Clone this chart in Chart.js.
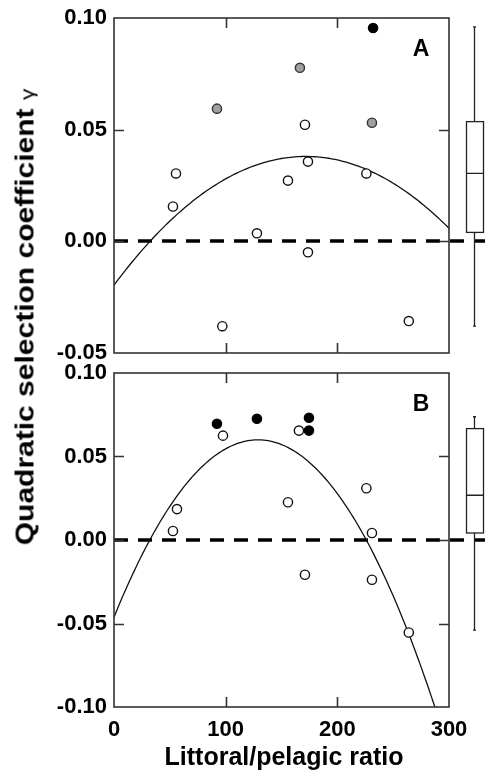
<!DOCTYPE html>
<html>
<head>
<meta charset="utf-8">
<script src="https://cdn.jsdelivr.net/npm/chart.js@4/dist/chart.umd.min.js"></script>
<style>
  html, body { margin: 0; padding: 0; background: #fff; }
  #wrap { position: relative; width: 485px; height: 771px; overflow: hidden; font-family: "Liberation Sans", Arial, sans-serif; }
  canvas { position: absolute; left: 0; }
  .panel-tag { position: absolute; font-weight: bold; font-size: 23px; color: #000; line-height: 1; transform: translate(-50%, -50%); }
  #ytitle { position: absolute; left: 25px; top: 317px; transform: translate(-50%, -50%) rotate(-90deg) scaleX(1.2); white-space: nowrap; font-weight: bold; font-size: 25px; line-height: 1; color: #000; }
  #ytitle span { font-weight: normal; font-size: 19px; }
  #xtitle { position: absolute; left: 284px; top: 756px; transform: translate(-50%, -50%); white-space: nowrap; font-weight: bold; font-size: 25px; line-height: 1; color: #000; }
</style>
</head>
<body>
<div id="wrap">
  <canvas id="chartA" width="485" height="362" style="top:0"></canvas>
  <canvas id="chartB" width="485" height="409" style="top:362px"></canvas>
  <div class="panel-tag" style="left:421px; top:48px">A</div>
  <div class="panel-tag" style="left:421px; top:403px">B</div>
  <div id="ytitle">Quadratic selection coefficient <span>γ</span></div>
  <div id="xtitle">Littoral/pelagic ratio</div>
</div>
<script>
// Panel A: selection estimates by littoral/pelagic ratio
const ratioA_open  = [52.8, 55.5, 97, 128, 155.8, 171, 173.7, 173.7, 226, 264];
const gammaA_open  = [0.0156, 0.0304, -0.038, 0.0036, 0.0272, 0.0522, 0.0357, -0.0049, 0.0304, -0.0357];
const ratioA_gray  = [92.2, 166.5, 231];
const gammaA_gray  = [0.0594, 0.0777, 0.0531];
const ratioA_black = [232];
const gammaA_black = [0.0955];
// quadratic fit: a + b*x + c*x^2
const fitA = [-0.0196, 6.71e-4, -1.954e-6];
// box summary: min, q1, median, q3, max
const boxA = [-0.038, 0.004, 0.0304, 0.0536, 0.096];

// Panel B
const ratioB_open  = [52.8, 56.4, 97.6, 155.8, 165.6, 171, 226, 231, 231, 264];
const gammaB_open  = [0.0054, 0.0185, 0.0625, 0.0226, 0.0655, -0.0208, 0.031, 0.0042, -0.0238, -0.0554];
const ratioB_black = [92.2, 128, 174.6, 174.6];
const gammaB_black = [0.0696, 0.0726, 0.0732, 0.0655];
const fitB = [-0.0462, 1.646e-3, -6.38e-6];
const boxB = [-0.054, 0.0042, 0.0268, 0.0667, 0.0738];

// axis ticks
const xTicks  = [0, 100, 200, 300];
const yTicksA = [-0.05, 0, 0.05, 0.10];
const yTicksB = [-0.10, -0.05, 0, 0.05, 0.10];

const FONT = '"Liberation Sans", Arial, sans-serif';

function pts(xs, ys) { return xs.map((x, i) => ({ x: x, y: ys[i] })); }
function fitCurve(c) {
  const out = [];
  for (let x = 0; x <= 300; x += 2) out.push({ x: x, y: c[0] + c[1] * x + c[2] * x * x });
  return out;
}
function fmt(v) { return (Math.abs(v) < 1e-9 ? 0 : v).toFixed(2); }
function noOverflow(s) { s.paddingTop = 0; s.paddingBottom = 0; s.paddingLeft = 0; s.paddingRight = 0; }

// frame, inward ticks, zero reference line and box summary
const decor = {
  id: 'decor',
  beforeDatasetsDraw(chart, args, opts) {
    const ctx = chart.ctx, y = chart.scales.y;
    const yz = Math.round(y.getPixelForValue(0));
    ctx.save();
    ctx.strokeStyle = '#000';
    ctx.lineWidth = 3.5;
    ctx.setLineDash([14, 10]);
    ctx.beginPath();
    ctx.moveTo(chart.chartArea.left, yz);
    ctx.lineTo(chart.width, yz);
    ctx.stroke();
    ctx.restore();
  },
  afterDraw(chart, args, opts) {
    const ctx = chart.ctx, x = chart.scales.x, y = chart.scales.y, a = chart.chartArea;
    ctx.save();
    ctx.strokeStyle = '#333';
    ctx.lineWidth = 1.6;
    ctx.strokeRect(a.left, a.top, a.right - a.left, a.bottom - a.top);
    const TL = 10;
    ctx.beginPath();
    opts.xInner.forEach(v => {
      const px = Math.round(x.getPixelForValue(v)) + 0.5;
      ctx.moveTo(px, a.top); ctx.lineTo(px, a.top + TL);
      ctx.moveTo(px, a.bottom); ctx.lineTo(px, a.bottom - TL);
    });
    opts.yInner.forEach(v => {
      const py = Math.round(y.getPixelForValue(v)) + 0.5;
      ctx.moveTo(a.left, py); ctx.lineTo(a.left + TL, py);
      ctx.moveTo(a.right, py); ctx.lineTo(a.right - TL, py);
    });
    ctx.stroke();
    // box summary to the right of the plot
    const b = opts.box, cx = 474.5, x0 = 466, x1 = 483;
    const p = b.map(v => y.getPixelForValue(v));
    ctx.strokeStyle = '#222';
    ctx.lineWidth = 1.3;
    ctx.beginPath();
    ctx.moveTo(cx, p[0]); ctx.lineTo(cx, p[1]);
    ctx.moveTo(cx, p[3]); ctx.lineTo(cx, p[4]);
    ctx.moveTo(cx - 1.5, p[4]); ctx.lineTo(cx + 1.5, p[4]);
    ctx.moveTo(cx - 1.5, p[0]); ctx.lineTo(cx + 1.5, p[0]);
    ctx.moveTo(x0, p[2]); ctx.lineTo(x1, p[2]);
    ctx.stroke();
    ctx.strokeRect(x0 + 0.5, p[3], x1 - x0, p[1] - p[3]);
    ctx.restore();
  }
};

function scatterSet(data, bg, border, order) {
  return { type: 'scatter', data: data, backgroundColor: bg, borderColor: border,
           borderWidth: 1.4, pointRadius: 4.6, pointHoverRadius: 4.6, order: order };
}
function curveSet(data) {
  return { type: 'line', data: data, borderColor: '#111', borderWidth: 1.3,
           pointRadius: 0, fill: false, tension: 0, order: 10 };
}

function makeChart(id, datasets, yTicks, showX, padding, xHeight, box) {
  return new Chart(document.getElementById(id), {
    type: 'scatter',
    data: { datasets: datasets },
    options: {
      responsive: false,
      animation: false,
      devicePixelRatio: 1,
      layout: { padding: padding },
      plugins: { legend: { display: false }, tooltip: { enabled: false },
                 decor: { xInner: [100, 200], yInner: yTicks.slice(1, -1), box: box } },
      scales: {
        x: {
          type: 'linear', min: 0, max: 300,
          afterBuildTicks: s => { s.ticks = xTicks.map(v => ({ value: v })); },
          afterFit: s => { s.height = xHeight; noOverflow(s); },
          grid: { display: false, drawTicks: false },
          border: { display: false },
          ticks: { display: showX, padding: 10, color: '#000',
                   font: { family: FONT, size: 22, weight: 'bold' } }
        },
        y: {
          type: 'linear', min: yTicks[0], max: yTicks[yTicks.length - 1],
          afterBuildTicks: s => { s.ticks = yTicks.map(v => ({ value: v })); },
          afterFit: s => { s.width = 114; noOverflow(s); },
          grid: { display: false, drawTicks: false },
          border: { display: false },
          ticks: { padding: 7, color: '#000', callback: v => fmt(v),
                   font: { family: FONT, size: 22, weight: 'bold' } }
        }
      }
    },
    plugins: [decor]
  });
}

makeChart('chartA', [
  scatterSet(pts(ratioA_black, gammaA_black), '#000', '#000', 1),
  scatterSet(pts(ratioA_gray, gammaA_gray), '#a0a0a0', '#333', 2),
  scatterSet(pts(ratioA_open, gammaA_open), '#fff', '#111', 3),
  curveSet(fitCurve(fitA))
], yTicksA, false, { top: 18, right: 36, left: 0, bottom: 9 }, 0, boxA);

makeChart('chartB', [
  scatterSet(pts(ratioB_black, gammaB_black), '#000', '#000', 1),
  scatterSet(pts(ratioB_open, gammaB_open), '#fff', '#111', 3),
  curveSet(fitCurve(fitB))
], yTicksB, true, { top: 11, right: 36, left: 0, bottom: 0 }, 64, boxB);
</script>
</body>
</html>
